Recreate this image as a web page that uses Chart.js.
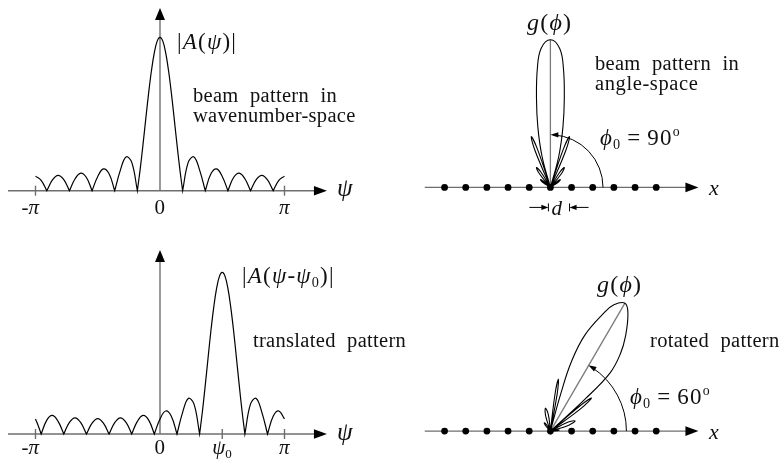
<!DOCTYPE html>
<html><head><meta charset="utf-8">
<script src="https://cdn.jsdelivr.net/npm/chart.js@4.4.0/dist/chart.umd.min.js"></script>
<style>
html,body{margin:0;padding:0;background:#fff;}
#wrap{position:relative;width:783px;height:465px;overflow:hidden;background:#fff;}
canvas{position:absolute;}
.t{position:absolute;white-space:nowrap;font-family:"Liberation Serif","DejaVu Serif","Times New Roman",serif;color:#111;line-height:1;}
.i{font-style:italic;}
.m{letter-spacing:1.2px;}
.sb{font-size:0.62em;position:relative;top:0.3em;line-height:0;font-style:normal;}
.sp{font-size:0.6em;position:relative;top:-0.6em;line-height:0;}
</style></head><body><div id="wrap">
<canvas id="c1" width="360" height="230" style="left:0;top:0;width:360px;height:230px"></canvas>
<canvas id="c2" width="360" height="230" style="left:0;top:235px;width:360px;height:230px"></canvas>
<canvas id="c3" width="310" height="230" style="left:410px;top:0;width:310px;height:230px"></canvas>
<canvas id="c4" width="310" height="230" style="left:410px;top:235px;width:310px;height:230px"></canvas>
</div>
<script>
// ---------- DATA ----------
// wavenumber-space pattern |A(psi)|, psi in units of pi
const psiTop = [-1.0,-0.9545,-0.9091, -0.9091,-0.8636,-0.8182,-0.7727,-0.7273, -0.7273,-0.6818,-0.6364,-0.5909,-0.5455,
  -0.5455,-0.5,-0.4545,-0.4091,-0.3636, -0.3636,-0.3182,-0.2727,-0.2273,-0.1818,
  -0.1818,-0.1591,-0.1364,-0.1136,-0.0909,-0.0682,-0.0455,-0.0227,0,0.0227,0.0455,0.0682,0.0909,0.1136,0.1364,0.1591,0.1818,
  0.1818,0.2273,0.2727,0.3182,0.3636, 0.3636,0.4091,0.4545,0.5,0.5455, 0.5455,0.5909,0.6364,0.6818,0.7273,
  0.7273,0.7727,0.8182,0.8636,0.9091, 0.9091,0.9545,1.0];
const ampTop = [0.095,0.067,0, 0,0.070,0.10,0.072,0, 0,0.078,0.115,0.086,0,
  0,0.093,0.142,0.110,0, 0,0.134,0.22,0.186,0,
  0,0.141,0.302,0.473,0.64,0.785,0.90,0.975,1.0,0.975,0.90,0.785,0.64,0.473,0.302,0.141,0,
  0,0.186,0.22,0.134,0, 0,0.110,0.142,0.093,0, 0,0.086,0.115,0.078,0,
  0,0.072,0.10,0.070,0, 0,0.067,0.095];
// translated pattern |A(psi-psi0)|
const psiShift = [-1.0,-0.9773,-0.9545, -0.9545,-0.9091,-0.8636,-0.8182,-0.7727, -0.7727,-0.7273,-0.6818,-0.6364,-0.5909,
  -0.5909,-0.5455,-0.5,-0.4545,-0.4091, -0.4091,-0.3636,-0.3182,-0.2727,-0.2273, -0.2273,-0.1818,-0.1364,-0.0909,-0.0455,
  -0.0455,0,0.0455,0.0909,0.1364, 0.1364,0.1818,0.2273,0.2727,0.3182,
  0.3182,0.3409,0.3636,0.3864,0.4091,0.4318,0.4545,0.4773,0.5,0.5227,0.5455,0.5682,0.5909,0.6136,0.6364,0.6591,0.6818,
  0.6818,0.7273,0.7727,0.8182,0.8636, 0.8636,0.9091,0.9545,1.0];
const ampShift = [0.093,0.05,0, 0,0.086,0.115,0.078,0, 0,0.072,0.10,0.070,0,
  0,0.067,0.095,0.067,0, 0,0.070,0.10,0.072,0, 0,0.078,0.115,0.086,0,
  0,0.093,0.142,0.110,0, 0,0.134,0.22,0.186,0,
  0,0.141,0.302,0.473,0.64,0.785,0.90,0.975,1.0,0.975,0.90,0.785,0.64,0.473,0.302,0.141,0,
  0,0.186,0.22,0.134,0, 0,0.110,0.142,0.093];
// angle-space patterns g(phi): phi in degrees, normalized gain
const phiBroad = [30,34,38,42,46, 48,51.5,55,58.5,62, 65.5,67.5,69.5,71.5,73.2,
  73.5,75.1,78.4,81.2,83.8,86.2,90,93.8,96.2,98.8,101.6,104.9,106.5,
  106.8,108.5,110.5,112.5,114.5, 118,121.5,125,128.5,132, 134,138,142,146,150];
const gBroad = [0,0.06,0.085,0.06,0, 0,0.12,0.164,0.12,0, 0,0.27,0.367,0.27,0,
  0,0.22,0.42,0.61,0.81,0.943,1,0.943,0.81,0.61,0.42,0.22,0,
  0,0.27,0.367,0.27,0, 0,0.12,0.164,0.12,0, 0,0.06,0.085,0.06,0];
const phiSteer = [0,3.5,7,10.5,14, 15,18,22.5,27,31, 34.5,36.8,39,40.7,41.8,
  42.2,43,44.5,48,52,57,60,63.5,65.8,70.5,73.3,74.6,75.6,
  78,79.8,81.3,82.9,84.6, 92,97,102,107,112, 116,121,126,131,136];
const gSteer = [0,0.04,0.06,0.04,0, 0,0.13,0.18,0.13,0, 0,0.26,0.355,0.26,0,
  0,0.32,0.56,0.70,0.82,0.955,1,0.955,0.877,0.686,0.49,0.27,0,
  0,0.26,0.357,0.26,0, 0,0.11,0.16,0.11,0, 0,0.05,0.07,0.05,0];
const steerTop = 90, steerBottom = 60;            // phi0 (degrees)
const elemIndex = [-5,-4,-3,-2,-1,0,1,2,3,4,5];  // array elements
const elemSpacing = 0.142;                        // d, in gain units of the polar plots
const tickValsTop = [-1,0,1], tickLabelsTop = ['-<span class="i">π</span>','0','<span class="i">π</span>'];
const tickValsBot = [-1,0,0.5,1], tickLabelsBot = ['-<span class="i">π</span>','0','<span class="i">ψ</span><span class="sb">0</span>','<span class="i">π</span>'];

// ---------- helpers ----------
const AX = '#6e6e6e';
function arrowHead(ctx,x,y,dx,dy,len,hw){
  const bx=x-dx*len, by=y-dy*len;
  ctx.beginPath(); ctx.moveTo(x,y); ctx.lineTo(bx-dy*hw,by+dx*hw); ctx.lineTo(bx+dy*hw,by-dx*hw); ctx.closePath(); ctx.fill();
}
const decoPlugin = {
  id:'deco',
  beforeDatasetsDraw(chart,args,o){
    const ctx=chart.ctx, xs=chart.scales.x, ys=chart.scales.y;
    const X=v=>xs.getPixelForValue(v), Y=v=>ys.getPixelForValue(v);
    ctx.save(); ctx.lineWidth=1.4; ctx.strokeStyle=AX; ctx.fillStyle='#000';
    const y0=Y(0), x0=X(0);
    ctx.beginPath(); ctx.moveTo(X(o.hFrom),y0); ctx.lineTo(X(o.hTo)-8,y0); ctx.stroke();
    arrowHead(ctx,X(o.hTo),y0,1,0,13,4.8);
    if(o.vTo!=null){
      ctx.beginPath(); ctx.moveTo(x0,y0); ctx.lineTo(x0,Y(o.vTo)+8); ctx.stroke();
      arrowHead(ctx,x0,Y(o.vTo),0,-1,12,5);
    }
    (o.ticks||[]).forEach(v=>{ if(v===0) return; ctx.beginPath(); ctx.moveTo(X(v),y0-5); ctx.lineTo(X(v),y0+5); ctx.stroke(); });
    if(o.ray!=null){
      const a=o.ray*Math.PI/180;
      ctx.lineWidth=1.3; ctx.strokeStyle='#7a7a7a';
      ctx.beginPath(); ctx.moveTo(x0,y0); ctx.lineTo(X(Math.cos(a)),Y(Math.sin(a))); ctx.stroke();
    }
    ctx.restore();
  },
  afterDatasetsDraw(chart,args,o){
    if(o.arcR==null) return;
    const ctx=chart.ctx, xs=chart.scales.x, ys=chart.scales.y;
    const X=v=>xs.getPixelForValue(v), Y=v=>ys.getPixelForValue(v);
    const cx=X(0), cy=Y(0), R=X(o.arcR)-cx, a=o.ray*Math.PI/180;
    ctx.save(); ctx.strokeStyle='#000'; ctx.fillStyle='#000'; ctx.lineWidth=1;
    ctx.beginPath(); ctx.arc(cx,cy,R,0,-a+0.06,true); ctx.stroke();
    arrowHead(ctx,cx+R*Math.cos(a),cy-R*Math.sin(a),-Math.sin(a),-Math.cos(a),8,2.6);
    if(o.dMark){
      const xa=X(0)-2, xb=X(elemSpacing)-2, yy=cy+20;
      ctx.lineWidth=1;
      ctx.beginPath(); ctx.moveTo(xa-19,yy); ctx.lineTo(xa-6,yy); ctx.moveTo(xb+19,yy); ctx.lineTo(xb+6,yy);
      ctx.moveTo(xa,yy-4); ctx.lineTo(xa,yy+4); ctx.moveTo(xb,yy-4); ctx.lineTo(xb,yy+4); ctx.stroke();
      arrowHead(ctx,xa,yy,1,0,7,2.6); arrowHead(ctx,xb,yy,-1,0,7,2.6);
    }
    ctx.restore();
  }
};
function mkChart(id,datasets,xr,yr,decoOpts){
  return new Chart(document.getElementById(id),{
    type:'scatter',
    data:{datasets},
    options:{responsive:false,animation:false,events:[],layout:{padding:0},
      plugins:{legend:{display:false},tooltip:{enabled:false},deco:decoOpts},
      scales:{x:{type:'linear',display:false,min:xr[0],max:xr[1]},y:{type:'linear',display:false,min:yr[0],max:yr[1]}}},
    plugins:[decoPlugin]
  });
}
function curve(xs,ys){ return {data:xs.map((v,i)=>({x:v,y:ys[i]})),showLine:true,borderColor:'#000',borderWidth:1.2,pointRadius:0,tension:0.4,fill:false}; }
function polar(ph,g){ return {data:ph.map((p,i)=>({x:g[i]*Math.cos(p*Math.PI/180),y:g[i]*Math.sin(p*Math.PI/180)})),showLine:true,borderColor:'#000',borderWidth:1.1,pointRadius:0,tension:0.4,fill:false}; }
function dots(){ return {data:elemIndex.map(n=>({x:n*elemSpacing,y:0})),showLine:false,pointRadius:3.4,pointBackgroundColor:'#000',pointBorderWidth:0}; }

const ch1 = mkChart('c1',[curve(psiTop,ampTop)],[-1.2851,1.6064],[-0.2562,1.2432],{hFrom:-1.221,hTo:1.341,vTo:1.191,ticks:tickValsTop});
const ch2 = mkChart('c2',[curve(psiShift,ampShift)],[-1.2851,1.6064],[-0.1917,1.2307],{hFrom:-1.221,hTo:1.341,vTo:1.138,ticks:tickValsBot});
const ch3 = mkChart('c3',[polar(phiBroad,gBroad),dots()],[-0.915,1.111],[-0.2614,1.2418],{hFrom:-0.843,hTo:0.993,ray:steerTop,arcR:0.353,dMark:true});
const ch4 = mkChart('c4',[polar(phiSteer,gSteer),dots()],[-0.915,1.111],[-0.2026,1.3007],{hFrom:-0.843,hTo:0.993,ray:steerBottom,arcR:0.51});

// ---------- TEXT ----------
const wrap=document.getElementById('wrap');
function txt(html,x,base,size,opt){
  opt=opt||{};
  const d=document.createElement('div'); d.className='t'+(opt.cls?' '+opt.cls:'');
  d.innerHTML=html; d.style.fontSize=size+'px';
  d.style.top=(base-0.8375*size)+'px';
  if(opt.ws) d.style.wordSpacing=opt.ws+'px';
  if(opt.ls) d.style.letterSpacing=opt.ls+'px';
  wrap.appendChild(d);
  if(opt.center){ d.style.left=(x-d.offsetWidth/2)+'px'; } else d.style.left=x+'px';
  return d;
}
const I=s=>'<span class="i">'+s+'</span>';
const body=20.5;
txt('|'+I('A')+'('+I('ψ')+')|',177,49,23,{cls:'m'});
txt('beam pattern in',193,102,body,{ws:6,ls:0.3});
txt('wavenumber-space',193,122,body,{ls:0.3});
txt('|'+I('A')+'('+I('ψ')+'-'+I('ψ')+'<span class="sb">0</span>)|',242,283,23,{cls:'m'});
txt('translated pattern',253,347,body,{ws:6,ls:0.3});
txt(I('g')+'('+I('ϕ')+')',527,30,24,{cls:'m'});
txt('beam pattern in',595,70,body,{ws:6,ls:0.3});
txt('angle-space',595,90,body,{ls:0.6});
txt(I('ϕ')+'<span class="sb">0</span>&thinsp;=&thinsp;90<span class="sp">o</span>',600,145,23,{cls:'m'});
txt(I('g')+'('+I('ϕ')+')',597,292,24,{cls:'m'});
txt('rotated pattern',650,347,body,{ws:6,ls:0.3});
txt(I('ϕ')+'<span class="sb">0</span>&thinsp;=&thinsp;60<span class="sp">o</span>',630,404,23,{cls:'m'});
txt(I('x'),709,195,22); txt(I('x'),709,439,22);
txt(I('ψ'),337,196,25); txt(I('ψ'),337,440,25);
txt(I('d'),557,216,21,{center:true});
function tickText(chart,vals,labels,left,base){
  vals.forEach((v,i)=>{ const px=left+chart.scales.x.getPixelForValue(v); txt(labels[i],px-(v<0?5:0),base,21,{center:true}); });
}
tickText(ch1,tickValsTop,tickLabelsTop,0,215);
tickText(ch2,tickValsBot,tickLabelsBot,0,455);
</script></body></html>
